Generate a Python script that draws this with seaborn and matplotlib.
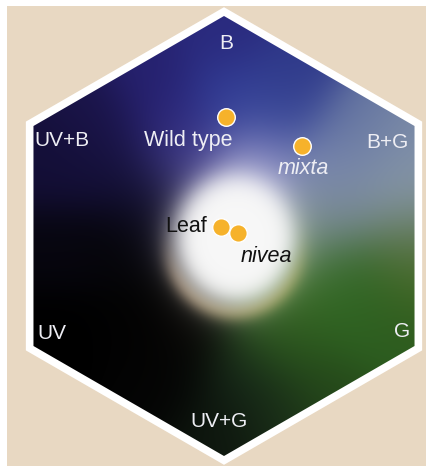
import numpy as np
import pandas as pd
import matplotlib
matplotlib.use("Agg")
import matplotlib.pyplot as plt
from matplotlib.patches import Polygon
import seaborn as sns

# Bee colour hexagon: loci of flower colours (hexagon units, radius = 1)
samples = ["Wild type", "mixta", "Leaf", "nivea"]
x_vals = [0.009, 0.356, -0.015, 0.062]
y_vals = [0.542, 0.410, 0.040, 0.015]

# Receptor corner labels, counter-clockwise from the top vertex
corner_labels = ["B", "UV+B", "UV", "UV+G", "G", "B+G"]
corner_angles = [90, 150, 210, 270, 330, 30]

# Background gradient control colours (position in hexagon units, colour)
grad_pos = [(0.0, 0.90), (-0.30, 0.72), (0.30, 0.72), (0.0, 0.62), (0.25, 0.55),
            (-0.55, 0.50), (-0.25, 0.50), (0.60, 0.50), (0.75, 0.40), (0.50, 0.30),
            (0.15, 0.32), (-0.18, 0.33), (-0.45, 0.28), (-0.75, 0.30), (0.80, 0.15),
            (0.55, 0.10), (0.82, -0.04), (0.40, -0.02),
            (0.40, -0.20), (0.60, -0.18), (0.82, -0.18), (0.62, -0.38), (0.35, -0.45),
            (0.78, -0.36), (0.45, -0.68), (0.22, -0.45), (0.55, -0.28), (0.30, -0.30),
            (0.0, -0.85), (0.10, -0.62), (0.25, -0.80), (-0.25, -0.65),
            (-0.75, -0.43), (-0.40, -0.40), (-0.45, -0.05), (-0.75, -0.05),
            (-0.30, 0.12), (-0.12, -0.40)]
grad_col = ["#2a2a7e", "#26216f", "#2e3888", "#33409a", "#3a4a9a",
            "#1a1448", "#2a2478", "#6070a0", "#8090a8", "#7a88b0",
            "#9090c4", "#4a4694", "#141038", "#140f38", "#8898a8",
            "#7a8a98", "#5e7450", "#7a8a8e",
            "#3a6c24", "#32682a", "#4a6c22", "#2c5e20", "#2a561e",
            "#2c5a1e", "#264a1a", "#28501c", "#2f6a22", "#3a6a22",
            "#0e160e", "#16281a", "#1a2e18", "#040404",
            "#000000", "#020202", "#050508", "#07060f",
            "#0c0a22", "#080604"]

sns.set_theme(style="white")
plt.rcParams["font.family"] = ["Liberation Sans", "DejaVu Sans"]

W, H, DPI = 427, 466, 100
fig = plt.figure(figsize=(W / DPI, H / DPI), dpi=DPI, facecolor="white")
# axes: 1 unit = 220 px in both directions
ax = fig.add_axes([7 / W, 0, 420 / W, 460 / H])
ax.set_facecolor("#e8d8c2")
for s in ax.spines.values():
    s.set_visible(False)


def hexagon(r):
    ang = np.deg2rad(np.array(corner_angles))
    return np.column_stack([r * np.cos(ang), r * np.sin(ang)])


# white frame
ax.add_patch(Polygon(hexagon(1.04), closed=True, facecolor="white", edgecolor="none", zorder=1))

# smooth colour field
n = 420
gx = np.linspace(-0.9, 0.9, n)
gy = np.linspace(-1.02, 1.02, n)
X, Y = np.meshgrid(gx, gy)
sigma = 0.14
num = np.zeros((n, n, 3))
den = np.full((n, n), 1e-12)
for (px, py), c in zip(grad_pos, grad_col):
    w = np.exp(-((X - px) ** 2 + (Y - py) ** 2) / (2 * sigma ** 2))
    num += w[..., None] * np.array(matplotlib.colors.to_rgb(c))
    den += w
rgb = num / den[..., None]

# bright central glow with a warm rim on its lower side
cx, cy = 0.05, -0.02
d = np.hypot(X - cx, (Y - cy) / 1.08)
lower = 1.0 / (1.0 + np.exp((Y - cy + 0.10) / 0.06))
side = np.clip((X - cx) / 0.25 * 0.5 + 0.5, 0, 1)[..., None]
rim_col = (1 - side) * np.array(matplotlib.colors.to_rgb("#9a7a58")) + \
    side * np.array(matplotlib.colors.to_rgb("#8a8a30"))
ra = (0.7 * np.exp(-((d - 0.30) / 0.045) ** 2) * lower)[..., None]
rgb = rgb * (1 - ra) + rim_col * ra
a = (1.0 / (1.0 + (d / 0.285) ** 8))[..., None]
rgb = rgb * (1 - a) + np.array([0.97, 0.97, 0.97]) * a

inner = Polygon(hexagon(1.0), closed=True, facecolor="none", edgecolor="none")
ax.add_patch(inner)
im = ax.imshow(rgb, extent=(-0.9, 0.9, -1.02, 1.02), origin="lower",
               interpolation="bilinear", zorder=2, aspect="auto")
im.set_clip_path(inner)

# corner labels
label_pos = [(0.009, 0.877), (-0.736, 0.436), (-0.782, -0.441),
             (-0.023, -0.841), (0.809, -0.436), (0.741, 0.427)]
for lab, (lx, ly) in zip(corner_labels, label_pos):
    ax.text(lx, ly, lab, color="#eeeef4", fontsize=15, ha="center", va="center", zorder=5)

# sample loci
df = pd.DataFrame({"sample": samples, "x": x_vals, "y": y_vals})
sns.scatterplot(data=df, x="x", y="y", ax=ax, color="#f6b22b", s=160,
                edgecolor="white", linewidth=1.0, zorder=6, legend=False)
ax.set_xlim(-217 / 220, 203 / 220)
ax.set_ylim(-230 / 220, 230 / 220)
ax.set_xticks([])
ax.set_yticks([])
ax.set_xlabel("")
ax.set_ylabel("")

ax.text(-0.164, 0.436, samples[0], color="#eeeef4", fontsize=15.5, ha="center", va="center", zorder=5)
ax.text(0.359, 0.305, samples[1], color="#eeeef4", fontsize=15.5, style="italic", ha="center", va="center", zorder=5)
ax.text(-0.078, 0.041, samples[2], color="#111111", fontsize=15.5, ha="right", va="center", zorder=5)
ax.text(0.191, -0.095, samples[3], color="#111111", fontsize=15.5, style="italic", ha="center", va="center", zorder=5)

fig.savefig("out.png", dpi=DPI, facecolor="white")
